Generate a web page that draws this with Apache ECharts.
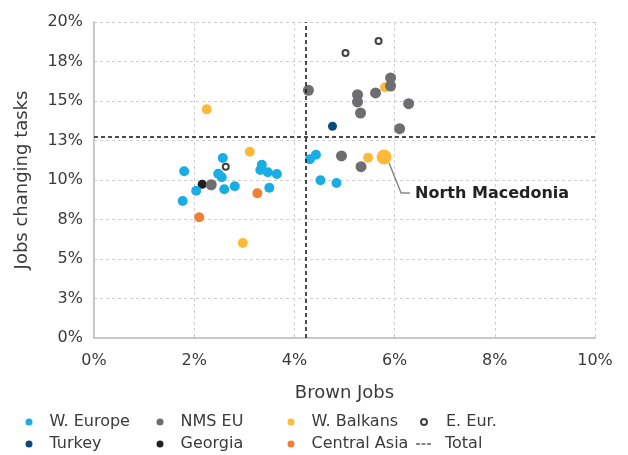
<!DOCTYPE html>
<html>
<head>
<meta charset="utf-8">
<script src="https://cdn.jsdelivr.net/npm/echarts@6/dist/echarts.min.js"></script>
<style>html,body{margin:0;padding:0;background:#fff}#c{width:628px;height:455px}</style>
</head>
<body>
<div id="c"></div>
<script>
// ---- Data (x = Brown Jobs %, y = Jobs changing tasks %) ----
const wEurope = [[1.80,10.55],[2.57,11.39],[2.48,10.40],[2.55,10.17],[2.04,9.32],[1.77,8.67],[2.60,9.41],[2.81,9.60],[3.35,10.97],[3.32,10.63],[3.47,10.49],[3.65,10.38],[3.50,9.51],[4.31,11.31],[4.43,11.60],[4.52,9.98],[4.84,9.81]];
const nmsEU = [[2.34,9.70],[4.28,15.68],[5.26,15.40],[5.26,14.94],[5.32,14.24],[5.62,15.51],[5.92,16.46],[5.92,15.95],[6.28,14.83],[6.10,13.25],[4.94,11.52],[5.33,10.84]];
const wBalkans = [[3.11,11.79],[2.25,14.47],[2.97,6.01],[5.81,15.87],[5.47,11.41]];
const northMacedonia = [5.79,11.46];
const eEur = [[2.63,10.84],[5.02,18.04],[5.68,18.80]];
const turkey = [[4.76,13.40]];
const georgia = [[2.16,9.73]];
const centralAsia = [[1.20,20.02],[3.26,9.16],[2.10,7.64]];
const totalX = 4.23;
const totalY = 12.72;
const annotationLabel = 'North Macedonia';
const legendRow1 = ['W. Europe','NMS EU','W. Balkans','E. Eur.'];
const legendRow2 = ['Turkey','Georgia','Central Asia','Total'];

const FONT = '"DejaVu Sans", sans-serif';
const TXT = '#3a3a3a';
const chart = echarts.init(document.getElementById('c'), null, {renderer:'canvas'});

function legendAt(name, left, top, pad, extra) {
  return Object.assign({
    data: [name], left: left, top: top, orient: 'horizontal',
    itemWidth: 7, itemHeight: 7, padding: 0, selectedMode: false,
    textStyle: {fontFamily: FONT, fontSize: 16, color: TXT, padding: [0,0,0,pad]}
  }, extra || {});
}
const colsIcon = [25.5, 156.5, 287.5, 420];
const rowTop = [414, 436];
const legends = [];
legendRow1.forEach((n,i)=>legends.push(n==='E. Eur.'
  ? legendAt(n, colsIcon[i], rowTop[0], 0, {itemWidth:6,itemHeight:6, textStyle:{fontFamily:FONT,fontSize:16,color:TXT,padding:[0,0,0,14]}})
  : legendAt(n, colsIcon[i], rowTop[0], 12)));
legendRow2.forEach((n,i)=>legends.push(n==='Total'
  ? legendAt(n, 416, rowTop[1], 0, {itemWidth:15,itemHeight:2,icon:'path://M0,0h4v1h-4z M5.5,0h4v1h-4z M11,0h4v1h-4z', textStyle:{fontFamily:FONT,fontSize:16,color:TXT,padding:[0,0,0,9]}})
  : legendAt(n, colsIcon[i], rowTop[1], 12)));

function sc(name, data, color, size, extra) {
  return Object.assign({
    name: name, type: 'scatter', data: data, symbolSize: size,
    itemStyle: {color: color, opacity: 1}, emphasis: {disabled: true}
  }, extra || {});
}

const option = {
  animation: false,
  backgroundColor: '#fff',
  grid: {left: 94, right: 33, top: 22, bottom: 117, containLabel: false},
  legend: legends,
  xAxis: {
    type: 'value', min: 0, max: 10, interval: 2,
    name: 'Brown Jobs', nameLocation: 'middle', nameGap: 46,
    nameTextStyle: {fontFamily: FONT, fontSize: 18, color: TXT},
    axisLine: {show: true, lineStyle: {color: '#c8c8c8', width: 2}},
    axisTick: {show: false},
    axisLabel: {fontFamily: FONT, fontSize: 16, color: TXT, margin: 15, formatter: v => Math.round(v) + '%'},
    splitLine: {show: true, lineStyle: {color: '#cfcfcf', type: [3,3], width: 1}}
  },
  yAxis: {
    type: 'value', min: 0, max: 20, interval: 2.5,
    name: 'Jobs changing tasks', nameLocation: 'middle', nameGap: 63,
    nameTextStyle: {fontFamily: FONT, fontSize: 18, color: TXT},
    axisLine: {show: true, lineStyle: {color: '#c8c8c8', width: 2}},
    axisTick: {show: false},
    axisLabel: {fontFamily: FONT, fontSize: 16, color: TXT, margin: 11, formatter: v => Math.round(v) + '%'},
    splitLine: {show: true, lineStyle: {color: '#cfcfcf', type: [3,3], width: 1}}
  },
  series: [
    {
      name: 'Total', type: 'line', data: [], symbol: 'none',
      itemStyle: {color: '#111'}, lineStyle: {color: '#111', type: 'dashed'},
      markLine: {
        silent: true, symbol: ['none','none'], label: {show: false},
        lineStyle: {color: '#111', type: [4,3], width: 1.5},
        data: [{xAxis: totalX}, {yAxis: totalY}]
      }
    },
    sc('Central Asia', centralAsia, '#f07f36', 10),
    sc('W. Balkans', wBalkans.concat([{value: northMacedonia, symbolSize: 15}]), '#fdb93a', 10),
    sc('Georgia', georgia, '#231f20', 9),
    sc('NMS EU', nmsEU, '#6e6e70', 11),
    sc('W. Europe', wEurope, '#1aade3', 10),
    sc('Turkey', turkey, '#0c4a7a', 9),
    sc('E. Eur.', eEur, '#ffffff', 6, {itemStyle: {color: '#ffffff', borderColor: '#111', borderWidth: 2}})
  ]
};
chart.setOption(option);

const p = chart.convertToPixel({gridIndex: 0}, northMacedonia);
chart.setOption({
  graphic: [
    {type: 'polyline', silent: true, z: 10,
     shape: {points: [[p[0]+5, p[1]+6], [p[0]+17, p[1]+36], [p[0]+26, p[1]+36]]},
     style: {stroke: '#8a8a8a', lineWidth: 1.5, fill: null}},
    {type: 'text', silent: true, z: 10, x: p[0]+31, y: p[1]+37,
     style: {text: annotationLabel, font: 'bold 16px ' + FONT, fill: '#222', verticalAlign: 'middle', align: 'left'}}
  ]
});
</script>
</body>
</html>
